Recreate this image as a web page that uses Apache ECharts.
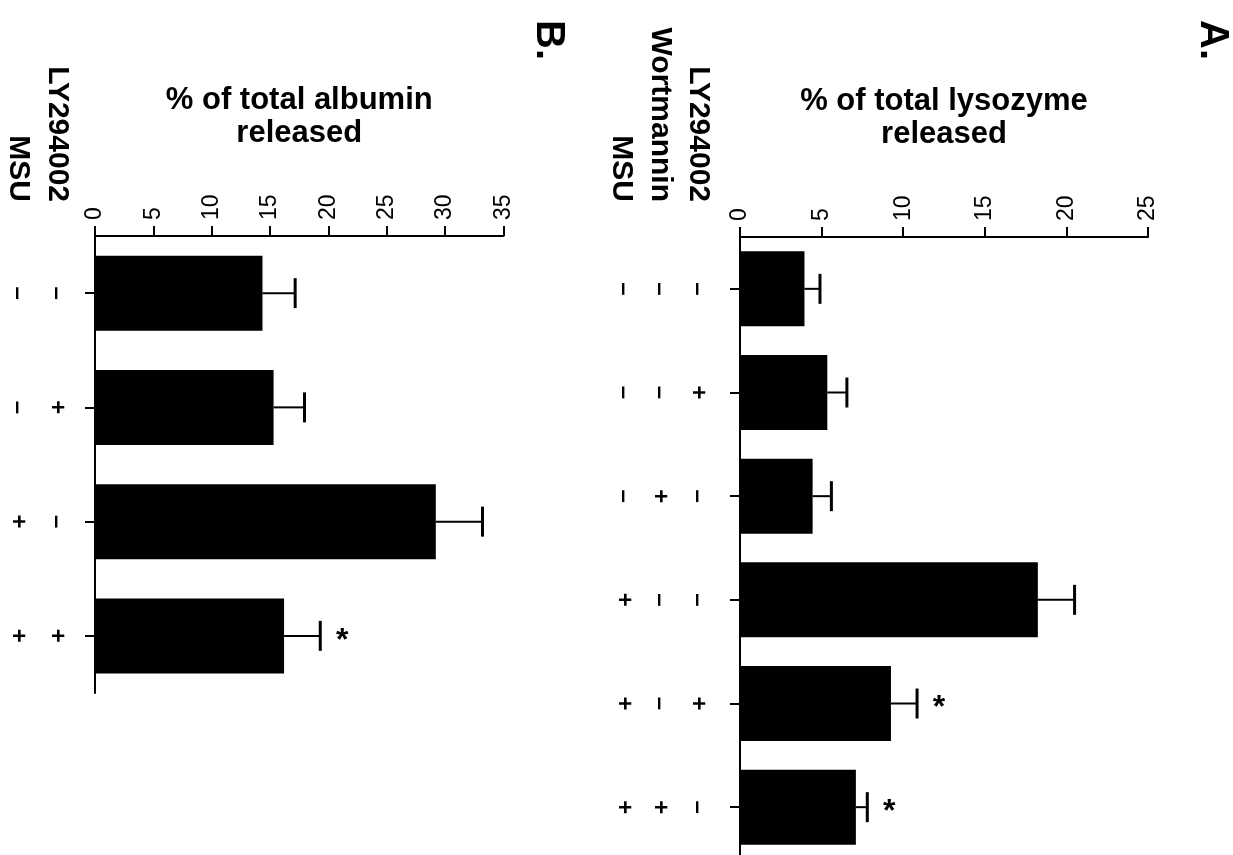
<!DOCTYPE html>
<html>
<head>
<meta charset="utf-8">
<script src="https://cdn.jsdelivr.net/npm/echarts@6/dist/echarts.min.js"></script>
<style>
  html, body { margin: 0; padding: 0; background: #fff; }
  #chart { width: 1233px; height: 855px; }
</style>
</head>
<body>
<div id="chart"></div>
<script>
// ---- Panel A: lysozyme release (% of total) ----
const lysozymeMean = [3.95, 5.35, 4.45, 18.25, 9.25, 7.1];
const lysozymeSem  = [0.95, 1.2, 1.15, 2.25, 1.6, 0.7];
const lysozymeSig  = ['', '', '', '', '*', '*'];
const lyA   = ['–', '+', '–', '–', '+', '–'];
const wortA = ['–', '–', '+', '–', '–', '+'];
const msuA  = ['–', '–', '–', '+', '+', '+'];
const axisA = { min: 0, max: 25, interval: 5 };

// ---- Panel B: albumin release (% of total) ----
const albuminMean = [14.35, 15.3, 29.2, 16.2];
const albuminSem  = [2.8, 2.65, 4.0, 3.1];
const albuminSig  = ['', '', '', '*'];
const lyB  = ['–', '+', '–', '+'];
const msuB = ['–', '–', '+', '+'];
const axisB = { min: 0, max: 35, interval: 5 };

const titleA = '% of total lysozyme\nreleased';
const titleB = '% of total albumin\nreleased';

const FONT = "'Liberation Sans', Arial, Helvetica, sans-serif";
const INK = '#000';

const catsA = lyA.map((v, i) => [v, wortA[i], msuA[i]].join(' '));
const catsB = lyB.map((v, i) => [v, msuB[i]].join(' '));

function valueAxis(gridIndex, range, name) {
  return {
    gridIndex, type: 'value', position: 'top',
    min: range.min, max: range.max, interval: range.interval,
    axisLine: { show: true, lineStyle: { color: INK, width: 2 } },
    axisTick: { show: true, length: 10, lineStyle: { color: INK, width: 2 } },
    axisLabel: { rotate: -90, fontSize: 23, color: INK, margin: 16, fontFamily: FONT,
                 showMinLabel: true, showMaxLabel: true },
    splitLine: { show: false },
    name, nameLocation: 'middle', nameGap: 86,
    nameTextStyle: { fontSize: 31, fontWeight: 'bold', lineHeight: 33, color: INK, fontFamily: FONT }
  };
}

function categoryAxis(gridIndex, cats) {
  return {
    gridIndex, type: 'category', data: cats, inverse: true, position: 'left',
    axisLine: { show: true, lineStyle: { color: INK, width: 2 } },
    axisTick: { show: true, alignWithLabel: true, length: 10, lineStyle: { color: INK, width: 2 } },
    axisLabel: { show: false }
  };
}

// one label-only axis per treatment row (+ / – marks)
function treatmentAxis(gridIndex, cats, marks, margin) {
  return {
    gridIndex, type: 'category', data: cats, inverse: true, position: 'left', offset: 0,
    axisLine: { show: false }, axisTick: { show: false }, splitLine: { show: false },
    axisLabel: {
      interval: 0, rotate: -90, margin, align: 'center', verticalAlign: 'middle',
      fontSize: 24, fontWeight: 'bold', color: INK, fontFamily: FONT,
      formatter: (v, i) => marks[i]
    }
  };
}

function errorBars(xAxisIndex, yAxisIndex, mean, sem, sig) {
  return {
    type: 'custom', xAxisIndex, yAxisIndex, silent: true,
    data: mean.map((m, i) => [m, i, sem[i]]),
    encode: { x: 0, y: 1 },
    renderItem: (params, api) => {
      const m = api.value(0), c = api.value(1), s = api.value(2);
      const p0 = api.coord([m, c]);
      const p1 = api.coord([m + s, c]);
      const children = [
        { type: 'line', shape: { x1: p0[0], y1: p0[1], x2: p1[0], y2: p1[1] },
          style: { stroke: INK, lineWidth: 2 } },
        { type: 'line', shape: { x1: p1[0], y1: p1[1] - 15, x2: p1[0], y2: p1[1] + 15 },
          style: { stroke: INK, lineWidth: 3 } }
      ];
      const star = sig[params.dataIndex];
      if (star) {
        children.push({
          type: 'text', x: p1[0] + 22, y: p1[1] + 5,
          style: { text: star, fill: INK, font: 'bold 32px ' + FONT, align: 'center', verticalAlign: 'middle' }
        });
      }
      return { type: 'group', children };
    }
  };
}

function rotatedText(text, x, y, size, align) {
  return {
    type: 'text', x, y, rotation: -Math.PI / 2,
    style: { text, fill: INK, font: 'bold ' + size + 'px ' + FONT, align, verticalAlign: 'middle' }
  };
}

const chart = echarts.init(document.getElementById('chart'), null, { renderer: 'canvas' });

chart.setOption({
  animation: false,
  backgroundColor: '#fff',
  textStyle: { fontFamily: FONT },
  grid: [
    { left: 740, top: 237, width: 408, height: 622, outerBoundsMode: 'none', containLabel: false },
    { left: 95, top: 236, width: 408.5, height: 457, outerBoundsMode: 'none', containLabel: false }
  ],
  xAxis: [
    valueAxis(0, axisA, titleA),
    valueAxis(1, axisB, titleB)
  ],
  yAxis: [
    categoryAxis(0, catsA),
    treatmentAxis(0, catsA, lyA, 42),
    treatmentAxis(0, catsA, wortA, 80),
    treatmentAxis(0, catsA, msuA, 116),
    categoryAxis(1, catsB),
    treatmentAxis(1, catsB, lyB, 38),
    treatmentAxis(1, catsB, msuB, 77)
  ],
  series: [
    { type: 'bar', xAxisIndex: 0, yAxisIndex: 0, data: lysozymeMean, barWidth: 75,
      itemStyle: { color: INK }, silent: true },
    errorBars(0, 0, lysozymeMean, lysozymeSem, lysozymeSig),
    { type: 'bar', xAxisIndex: 1, yAxisIndex: 4, data: albuminMean, barWidth: 75,
      itemStyle: { color: INK }, silent: true },
    errorBars(1, 4, albuminMean, albuminSem, albuminSig)
  ],
  graphic: [
    rotatedText('A.', 1212, 40, 40, 'center'),
    rotatedText('B.', 548, 40, 40, 'center'),
    rotatedText('LY294002', 698, 202, 30, 'right'),
    rotatedText('Wortmannin', 660, 202, 30, 'right'),
    rotatedText('MSU', 621, 202, 30, 'right'),
    rotatedText('LY294002', 57, 202, 30, 'right'),
    rotatedText('MSU', 18, 202, 30, 'right')
  ]
});
</script>
</body>
</html>
